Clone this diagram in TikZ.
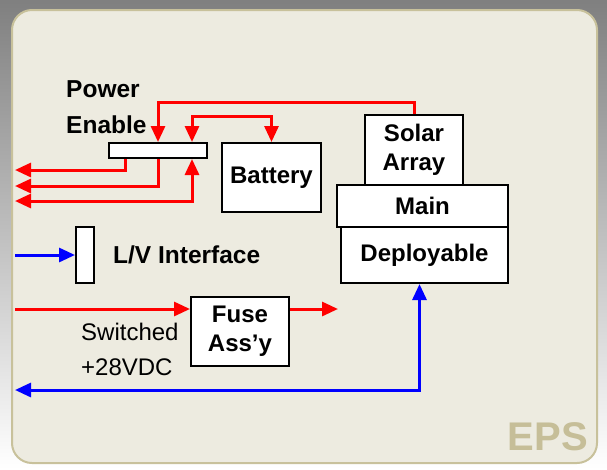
\documentclass[tikz,border=0pt]{standalone}
\usepackage{fontspec}
\setmainfont{Liberation Sans}
\usetikzlibrary{arrows.meta}
\definecolor{panel}{HTML}{EDEBE0}
\definecolor{rim}{HTML}{C8C19B}
\definecolor{shade}{HTML}{888888}
\definecolor{epstan}{HTML}{C6BE98}
\begin{document}
\begin{tikzpicture}[x=1pt, y=-1pt, >={Triangle[length=16pt,width=14pt]},
    box/.style={draw, line width=2pt, fill=white, inner sep=0pt, align=center,
        font=\bfseries\fontsize{24}{29}\selectfont},
    power/.style={red, line width=3pt},
    signal/.style={blue, line width=3pt},
    txt/.style={inner sep=0pt, align=left, font=\fontsize{24}{35}\selectfont}]

    % Background
    \useasboundingbox (0,0) rectangle (607,469);
    \fill[shade] (0,0) rectangle (607,469);
    \draw[rim, fill=panel, line width=2pt, rounded corners=20pt] (12,10) rectangle (597,463);

    % Nodes
    \node [box, minimum width=98pt, minimum height=15pt] (enable) at (158,150.5) {};
    \node [box, minimum width=99pt, minimum height=69pt] (battery) at (271.5,177.5) {Battery};
    \node [box, minimum width=98pt, minimum height=70pt] (solar) at (414,150) {Solar\\Array};
    \node [box, minimum width=171pt, minimum height=42pt] (main) at (422.5,206) {Main};
    \node [box, minimum width=167pt, minimum height=56pt] (deploy) at (424.5,255) {Deployable};
    \node [box, minimum width=18pt, minimum height=56pt] (lv) at (85,255) {};
    \node [box, minimum width=98pt, minimum height=69pt] (fuse) at (240,331.5) {Fuse\\Ass’y};

    % Labels
    \node [txt, anchor=west, font=\bfseries\fontsize{24.5}{36}\selectfont] (enablelbl) at (66,107) {Power\\Enable};
    \node [txt, anchor=west, font=\bfseries\fontsize{24.5}{29}\selectfont] (lvlbl) at (113,255) {L/V Interface};
    \node [txt, anchor=west] (switchlbl) at (81,349) {Switched\\+28VDC};
    \node [txt, anchor=base east, text=epstan, font=\bfseries\fontsize{40}{48}\selectfont] (eps) at (588,450) {EPS};

    % Free ends
    \coordinate (out1) at (15,170);
    \coordinate (out2) at (15,186);
    \coordinate (out3) at (15,201);
    \coordinate (lvin) at (15,255);
    \coordinate (fusein) at (15,309);
    \coordinate (fuseout) at (338,309);
    \coordinate (bus) at (15,390);

    % Arrows
    \draw[power, ->] (solar.north) -- ++(0,-12) -| (enable.north);
    \draw[power, <->] ([xshift=34pt]enable.north) |- ++(40,-26) -| (battery.north);
    \draw[power, ->] ([xshift=-33pt]enable.south) |- (out1);
    \draw[power, ->] (enable.south) |- (out2);
    \draw[power, <->] (out3) -| ([xshift=34pt]enable.south);
    \draw[signal, ->] (lvin) -- (lv.west);
    \draw[power, ->] (fusein) -- (fusein -| fuse.west);
    \draw[power, ->] (fusein -| fuse.east) -- (fuseout);
    \draw[signal, <->] (bus) -| ([xshift=-5pt]deploy.south);

\end{tikzpicture}
\end{document}
